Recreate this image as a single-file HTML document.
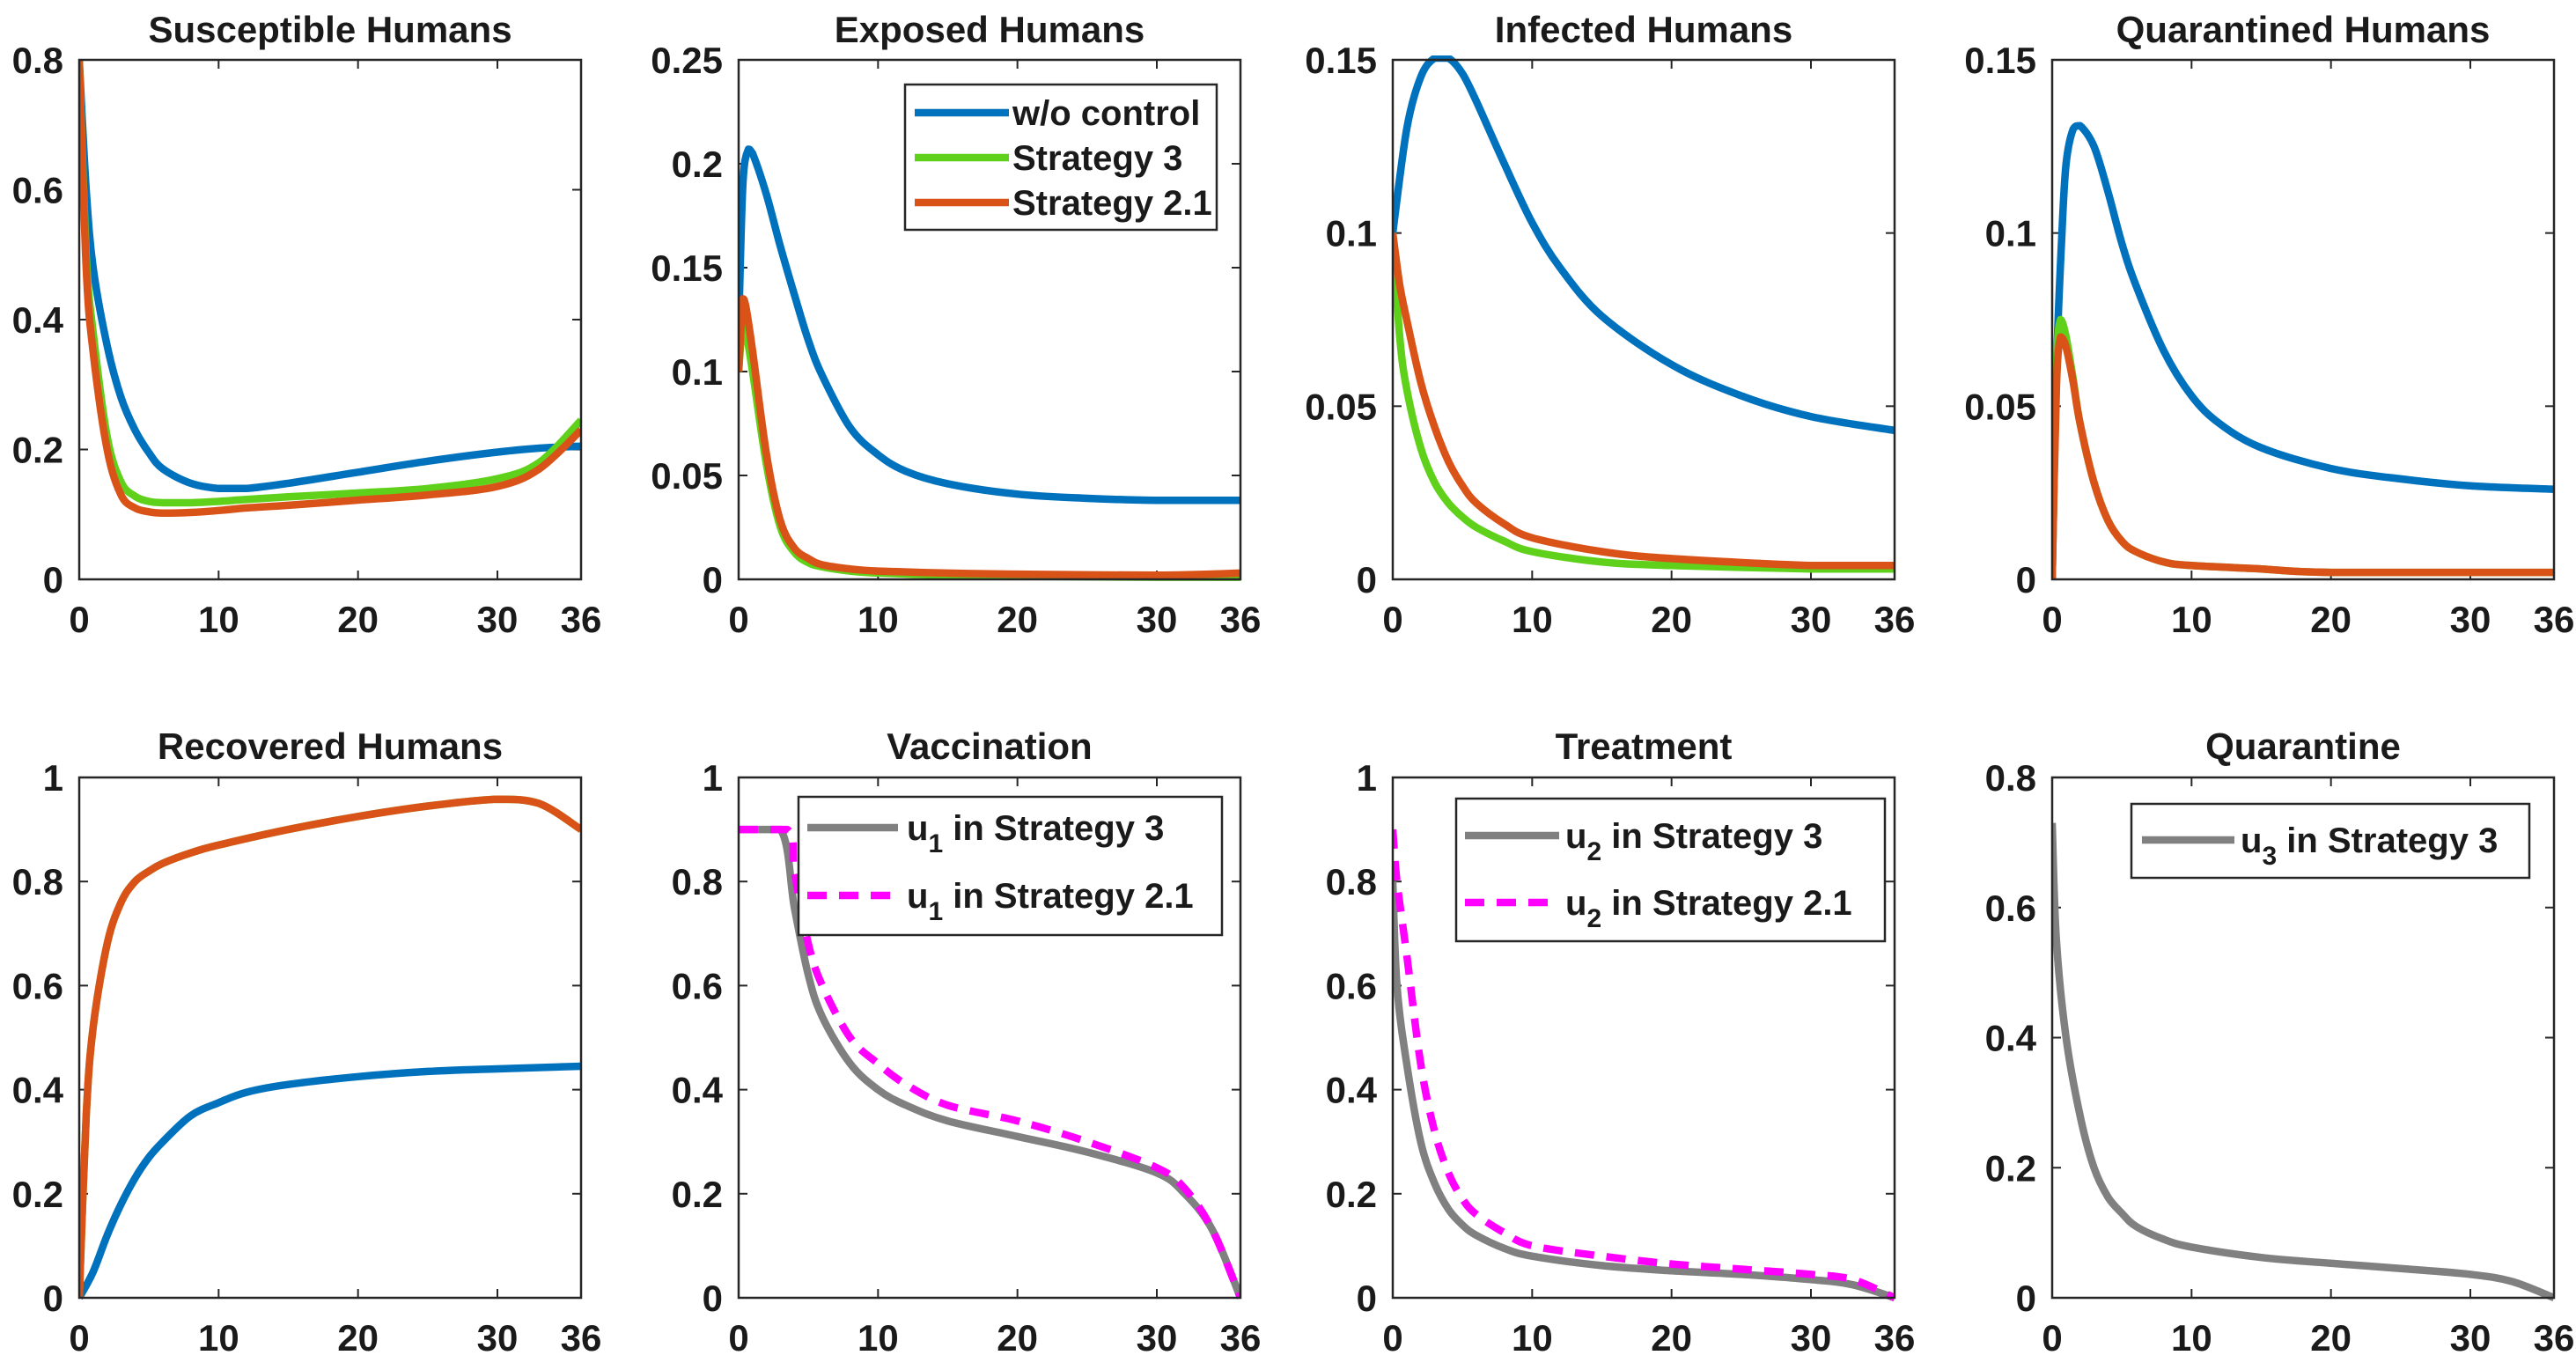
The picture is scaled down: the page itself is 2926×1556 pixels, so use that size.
<!DOCTYPE html>
<html><head><meta charset="utf-8"><style>
html,body{margin:0;padding:0;background:#fff}
svg text{font-family:"Liberation Sans",sans-serif;font-weight:bold;fill:#1a1a1a}
</style></head><body>
<svg id="fig" width="2926" height="1551" viewBox="0 0 2926 1551" xmlns="http://www.w3.org/2000/svg"></svg>
<script>
const NS="http://www.w3.org/2000/svg";
const xTicks=[0,10,20,30,36];
// --- data arrays ---
const susT=[0,0.5,1,2,3,4,5,6,8,10,12,15,20,25,30,33,36];
const susBlue=[0.8,0.6,0.48,0.36,0.28,0.23,0.195,0.17,0.148,0.14,0.14,0.148,0.165,0.182,0.196,0.202,0.205];
const susGreen=[0.8,0.5,0.38,0.22,0.15,0.128,0.12,0.118,0.118,0.12,0.123,0.127,0.133,0.14,0.155,0.18,0.245];
const susOrange=[0.8,0.48,0.35,0.2,0.13,0.11,0.104,0.102,0.103,0.106,0.11,0.114,0.122,0.13,0.143,0.17,0.23];
const expBlueT=[0,0.3,0.7,1,2,3,4,5,6,8,10,12,15,20,25,30,36];
const expBlue=[0.12,0.19,0.207,0.205,0.185,0.16,0.137,0.115,0.098,0.073,0.06,0.052,0.046,0.041,0.039,0.038,0.038];
const expT=[0,0.3,0.5,1,2,3,4,5,6,8,10,15,20,30,36];
const expGreen=[0.1,0.125,0.12,0.1,0.055,0.025,0.013,0.008,0.006,0.004,0.003,0.002,0.0015,0.001,0.001];
const expOrange=[0.1,0.135,0.132,0.11,0.06,0.028,0.015,0.01,0.007,0.005,0.004,0.003,0.0025,0.002,0.003];
const infBlueT=[0,1,2,3,4,5,6,8,10,12,15,20,25,30,36];
const infBlue=[0.1,0.13,0.145,0.1505,0.1505,0.146,0.138,0.12,0.103,0.09,0.076,0.062,0.053,0.047,0.043];
const infT=[0,0.5,1,2,3,4,5,6,8,10,15,20,30,36];
const infGreen=[0.1,0.07,0.055,0.038,0.028,0.022,0.018,0.015,0.011,0.008,0.005,0.004,0.003,0.003];
const infOrange=[0.1,0.085,0.075,0.057,0.044,0.034,0.027,0.022,0.016,0.012,0.008,0.006,0.004,0.004];
const quaBlueT=[0,0.3,0.7,1,1.5,2,3,4,5,6,8,10,12,15,20,25,30,36];
const quaBlue=[0,0.06,0.1,0.12,0.13,0.131,0.125,0.112,0.097,0.085,0.066,0.053,0.045,0.038,0.032,0.029,0.027,0.026];
const quaT=[0,0.3,0.6,1,1.5,2,3,4,5,6,8,10,15,20,36];
const quaGreen=[0,0.06,0.075,0.07,0.058,0.045,0.028,0.017,0.011,0.008,0.005,0.004,0.003,0.002,0.002];
const quaOrange=[0,0.055,0.07,0.067,0.057,0.045,0.028,0.017,0.011,0.008,0.005,0.004,0.003,0.002,0.002];
const recBlueT=[0,1,2,3,4,5,6,8,10,12,15,20,25,30,36];
const recBlue=[0,0.05,0.12,0.18,0.23,0.27,0.3,0.35,0.375,0.395,0.41,0.425,0.435,0.44,0.445];
const recT=[0,0.5,1,2,3,4,5,6,8,10,15,20,25,30,33,36];
const recOrange=[0,0.35,0.52,0.68,0.76,0.8,0.82,0.835,0.855,0.87,0.9,0.925,0.945,0.958,0.95,0.9];
const vacGrayT=[0,3,4,5,6,8,10,12,15,20,25,30,32,34,36];
const vacGray=[0.9,0.9,0.75,0.62,0.54,0.45,0.4,0.37,0.34,0.31,0.28,0.24,0.2,0.13,0];
const vacMagT=[0,3.5,4,5,6,8,10,12,15,20,25,30,32,34,36];
const vacMag=[0.9,0.9,0.82,0.68,0.6,0.5,0.45,0.41,0.37,0.34,0.3,0.25,0.21,0.13,0];
const trtT=[0,0.3,1,2,3,4,5,6,8,10,15,20,25,30,33,36];
const trtGray=[0.8,0.6,0.45,0.3,0.22,0.17,0.14,0.12,0.095,0.08,0.062,0.052,0.045,0.035,0.025,0];
const trtMag=[0.9,0.8,0.66,0.45,0.32,0.24,0.19,0.16,0.125,0.1,0.08,0.065,0.055,0.045,0.035,0];
const qrnT=[0,0.3,1,2,3,4,5,6,8,10,15,20,25,30,33,36];
const qrnGray=[0.73,0.55,0.4,0.28,0.2,0.155,0.13,0.11,0.09,0.078,0.062,0.053,0.045,0.036,0.025,0];

const BLUE="#0072BD",GREEN="#5FD11B",ORANGE="#D95319",GRAY="#808080",MAG="#FF00FF";
const LW=8.5;
const svg=document.getElementById('fig');
function el(tag,attrs,parent){const e=document.createElementNS(NS,tag);for(const k in attrs)e.setAttribute(k,attrs[k]);(parent||svg).appendChild(e);return e;}
function txt(s,x,y,size,anchor,parent){const t=el('text',{x:x,y:y,'font-size':size,'text-anchor':anchor||'start'},parent);t.textContent=s;return t;}
function pathFrom(pts){let d="M"+pts[0][0].toFixed(1)+","+pts[0][1].toFixed(1);
 for(let i=0;i<pts.length-1;i++){const p0=pts[Math.max(0,i-1)],p1=pts[i],p2=pts[i+1],p3=pts[Math.min(pts.length-1,i+2)];
  let c1y=p1[1]+(p2[1]-p0[1])/6,c2y=p2[1]-(p3[1]-p1[1])/6;
  const lo=Math.min(p1[1],p2[1]),hi=Math.max(p1[1],p2[1]);
  c1y=Math.min(hi,Math.max(lo,c1y));c2y=Math.min(hi,Math.max(lo,c2y));
  d+=" C"+(p1[0]+(p2[0]-p0[0])/6).toFixed(1)+","+c1y.toFixed(1)+" "+(p2[0]-(p3[0]-p1[0])/6).toFixed(1)+","+c2y.toFixed(1)+" "+p2[0].toFixed(1)+","+p2[1].toFixed(1);}
 return d;}
const colL=[90,839,1582,2331],W=570;
const rows=[{top:68,bot:658,tY:48},{top:883,bot:1474,tY:862}];
function panel(name,title,ci,ri,ymax,yTicks,yLabels,series){
 const L=colL[ci],R=L+W,T=rows[ri].top,B=rows[ri].bot;
 const g=el('g',{});
 
 
 const xs=v=>L+v/36*(R-L), ys=v=>B-v/ymax*(B-T);
 const cp=el('clipPath',{id:'c'+name},g);el('rect',{x:L,y:T-5,width:W,height:B-T+10},cp);
 const tt=txt(title,(L+R)/2,rows[ri].tY,42,'middle',g);
 
 xTicks.forEach(v=>{const x=xs(v);
  el('line',{x1:x,y1:B,x2:x,y2:B-10,stroke:'#262626','stroke-width':2},g);
  el('line',{x1:x,y1:T,x2:x,y2:T+10,stroke:'#262626','stroke-width':2},g);
  const t=txt(String(v),x,B+60,42,'middle',g);
  });
 yTicks.forEach((v,i)=>{const y=ys(v);
  el('line',{x1:L,y1:y,x2:L+10,y2:y,stroke:'#262626','stroke-width':2},g);
  el('line',{x1:R,y1:y,x2:R-10,y2:y,stroke:'#262626','stroke-width':2},g);
  const t=txt(yLabels[i],L-18,y+15,42,'end',g);
  });
 series.forEach(s=>{const pts=s.t.map((tv,i)=>[xs(tv),ys(s.v[i])]);
  const p=el('path',{d:pathFrom(pts),fill:'none',stroke:s.c,'stroke-width':LW,'stroke-linejoin':'round','clip-path':'url(#c'+name+')'},g);
  if(s.dash)p.setAttribute('stroke-dasharray','22,14');
  });
 const box=el('rect',{x:L,y:T,width:W,height:B-T,fill:'none',stroke:'#262626','stroke-width':2.5},g);
 
 return g;}
const yt=(arr)=>arr.map(String);
panel('susceptible','Susceptible Humans',0,0,0.8,[0,0.2,0.4,0.6,0.8],yt([0,0.2,0.4,0.6,0.8]),[
 {t:susT,v:susBlue,c:BLUE,n:'susceptible-wo-control-line'},{t:susT,v:susGreen,c:GREEN,n:'susceptible-strategy3-line'},{t:susT,v:susOrange,c:ORANGE,n:'susceptible-strategy21-line'}]);
panel('exposed','Exposed Humans',1,0,0.25,[0,0.05,0.1,0.15,0.2,0.25],yt([0,0.05,0.1,0.15,0.2,0.25]),[
 {t:expBlueT,v:expBlue,c:BLUE,n:'exposed-wo-control-line'},{t:expT,v:expGreen,c:GREEN,n:'exposed-strategy3-line'},{t:expT,v:expOrange,c:ORANGE,n:'exposed-strategy21-line'}]);
panel('infected','Infected Humans',2,0,0.15,[0,0.05,0.1,0.15],yt([0,0.05,0.1,0.15]),[
 {t:infBlueT,v:infBlue,c:BLUE,n:'infected-wo-control-line'},{t:infT,v:infGreen,c:GREEN,n:'infected-strategy3-line'},{t:infT,v:infOrange,c:ORANGE,n:'infected-strategy21-line'}]);
panel('quarantined','Quarantined Humans',3,0,0.15,[0,0.05,0.1,0.15],yt([0,0.05,0.1,0.15]),[
 {t:quaBlueT,v:quaBlue,c:BLUE,n:'quarantined-wo-control-line'},{t:quaT,v:quaGreen,c:GREEN,n:'quarantined-strategy3-line'},{t:quaT,v:quaOrange,c:ORANGE,n:'quarantined-strategy21-line'}]);
panel('recovered','Recovered Humans',0,1,1,[0,0.2,0.4,0.6,0.8,1],yt([0,0.2,0.4,0.6,0.8,1]),[
 {t:recBlueT,v:recBlue,c:BLUE,n:'recovered-wo-control-line'},{t:recT,v:recOrange,c:GREEN,n:'recovered-strategy3-line'},{t:recT,v:recOrange,c:ORANGE,n:'recovered-strategy21-line'}]);
panel('vaccination','Vaccination',1,1,1,[0,0.2,0.4,0.6,0.8,1],yt([0,0.2,0.4,0.6,0.8,1]),[
 {t:vacGrayT,v:vacGray,c:GRAY,n:'u1-strategy3-line'},{t:vacMagT,v:vacMag,c:MAG,dash:true,n:'u1-strategy21-line'}]);
panel('treatment','Treatment',2,1,1,[0,0.2,0.4,0.6,0.8,1],yt([0,0.2,0.4,0.6,0.8,1]),[
 {t:trtT,v:trtGray,c:GRAY,n:'u2-strategy3-line'},{t:trtT,v:trtMag,c:MAG,dash:true,n:'u2-strategy21-line'}]);
panel('quarantine','Quarantine',3,1,0.8,[0,0.2,0.4,0.6,0.8],yt([0,0.2,0.4,0.6,0.8]),[
 {t:qrnT,v:qrnGray,c:GRAY,n:'u3-strategy3-line'}]);

function legend(name,x,y,w,h,entries,lx1,lx2,tx){
 const g=el('g',{});
 
 
 el('rect',{x:x,y:y,width:w,height:h,fill:'#fff',stroke:'#262626','stroke-width':2.5},g);
 entries.forEach(e=>{
  const ln=el('line',{x1:lx1,y1:e.y,x2:lx2,y2:e.y,stroke:e.c,'stroke-width':LW},g);
  if(e.dash)ln.setAttribute('stroke-dasharray','22,14');
  const t=el('text',{x:tx,y:e.y+14,'font-size':40},g);
  if(e.sub){const a=el('tspan',{},t);a.textContent='u';
   const b=el('tspan',{dy:14,'font-size':30},t);b.textContent=e.sub;
   const c=el('tspan',{dy:-14},t);c.textContent=' '+e.s;}
  else t.textContent=e.s;
  });}
legend('exposed-legend',1028,96,354,165,[{y:128,c:BLUE,s:'w/o control'},{y:179,c:GREEN,s:'Strategy 3'},{y:230,c:ORANGE,s:'Strategy 2.1'}],1039,1146,1150);
legend('vaccination-legend',907,905,481,157,[{y:940,c:GRAY,sub:'1',s:'in Strategy 3'},{y:1017,c:MAG,dash:true,sub:'1',s:'in Strategy 2.1'}],917,1020,1030);
legend('treatment-legend',1654,907,487,162,[{y:949,c:GRAY,sub:'2',s:'in Strategy 3'},{y:1025,c:MAG,dash:true,sub:'2',s:'in Strategy 2.1'}],1664,1771,1778);
legend('quarantine-legend',2421,913,452,84,[{y:954,c:GRAY,sub:'3',s:'in Strategy 3'}],2433,2538,2545);
</script>
</body></html>
